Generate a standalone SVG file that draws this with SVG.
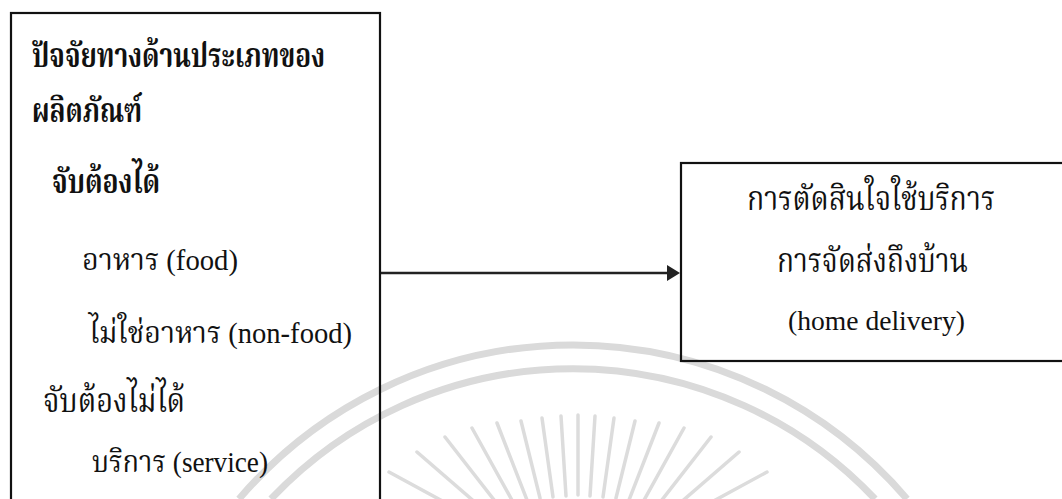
<svg xmlns="http://www.w3.org/2000/svg" width="1062" height="499" viewBox="0 0 1062 499">
  <style>
    .box { fill: none; stroke: #111; stroke-width: 2.2; }
    .th { font-family: "Norasi", "Kinnari", "Noto Serif Thai", "Noto Sans Thai Looped", "Noto Sans Thai", "Garuda", "Loma", "Liberation Serif", serif; fill: #111; }
    .thb { font-weight: bold; font-size: 33px; }
    .thr { font-size: 34px; }
    .mix { font-family: "Liberation Serif", "Norasi", "Kinnari", "Noto Serif Thai", "Noto Sans Thai Looped", "Noto Sans Thai", "Garuda", "Loma", serif; font-size: 30px; fill: #111; }
    .en { font-family: "Liberation Serif", "Times New Roman", serif; font-size: 28px; fill: #111; }
    .wm { fill: none; stroke: #dadada; }
    .ray { stroke: #dcdcdc; stroke-width: 3.5; stroke-linecap: round; }
    .conn { stroke: #222; stroke-width: 2.5; fill: none; }
  </style>
  <rect width="1062" height="499" fill="#ffffff"/>
  <g id="watermark">
    <path class="wm" stroke-width="7" d="M 239 499 A 439 439 0 0 1 907 499"/>
    <path class="wm" stroke-width="7" d="M 271 499 A 415 415 0 0 1 875 499"/>
    <g class="ray">
      <line x1="578" y1="495" x2="578" y2="415"/>
      <line x1="566" y1="496" x2="561" y2="416"/>
      <line x1="553" y1="497" x2="542" y2="418"/>
      <line x1="540" y1="498" x2="521" y2="421"/>
      <line x1="527" y1="500" x2="497" y2="423"/>
      <line x1="513" y1="502" x2="472" y2="428"/>
      <line x1="498" y1="505" x2="445" y2="437"/>
      <line x1="484" y1="510" x2="417" y2="452"/>
      <line x1="590" y1="496" x2="595" y2="416"/>
      <line x1="603" y1="497" x2="614" y2="418"/>
      <line x1="616" y1="498" x2="635" y2="421"/>
      <line x1="629" y1="500" x2="659" y2="423"/>
      <line x1="643" y1="502" x2="684" y2="428"/>
      <line x1="658" y1="505" x2="711" y2="437"/>
      <line x1="672" y1="510" x2="739" y2="452"/>
      <line x1="686" y1="516" x2="767" y2="472"/>
      <line x1="470" y1="516" x2="389" y2="472"/>
    </g>
  </g>
  <g id="connectors">
    <line class="conn" x1="381" y1="273" x2="670" y2="273"/>
    <polygon points="680,273 667,265 667,281" fill="#222"/>
  </g>
  <g id="node-product-factors">
    <rect class="box" x="11" y="13" width="369" height="500"/>
    <text class="th thb" x="32" y="67" textLength="293" lengthAdjust="spacingAndGlyphs">ปัจจัยทางด้านประเภทของ</text>
    <text class="th thb" x="32" y="122" textLength="110" lengthAdjust="spacingAndGlyphs">ผลิตภัณฑ์</text>
    <text class="th thb" x="52" y="193" textLength="108" lengthAdjust="spacingAndGlyphs">จับต้องได้</text>
    <text class="mix" x="82" y="270" textLength="156" lengthAdjust="spacingAndGlyphs">อาหาร (food)</text>
    <text class="mix" x="89" y="343" textLength="263" lengthAdjust="spacingAndGlyphs">ไม่ใช่อาหาร (non-food)</text>
    <text class="th thr" x="43" y="412" textLength="142" lengthAdjust="spacingAndGlyphs">จับต้องไม่ได้</text>
    <text class="mix" x="92" y="472" textLength="176" lengthAdjust="spacingAndGlyphs">บริการ (service)</text>
  </g>
  <g id="node-decision">
    <rect class="box" x="681" y="163" width="400" height="198"/>
    <text class="th thr" x="747" y="210" textLength="248" lengthAdjust="spacingAndGlyphs">การตัดสินใจใช้บริการ</text>
    <text class="th thr" x="777" y="272" textLength="191" lengthAdjust="spacingAndGlyphs">การจัดส่งถึงบ้าน</text>
    <text class="en" x="788" y="330" textLength="177" lengthAdjust="spacingAndGlyphs">(home delivery)</text>
  </g>
</svg>
